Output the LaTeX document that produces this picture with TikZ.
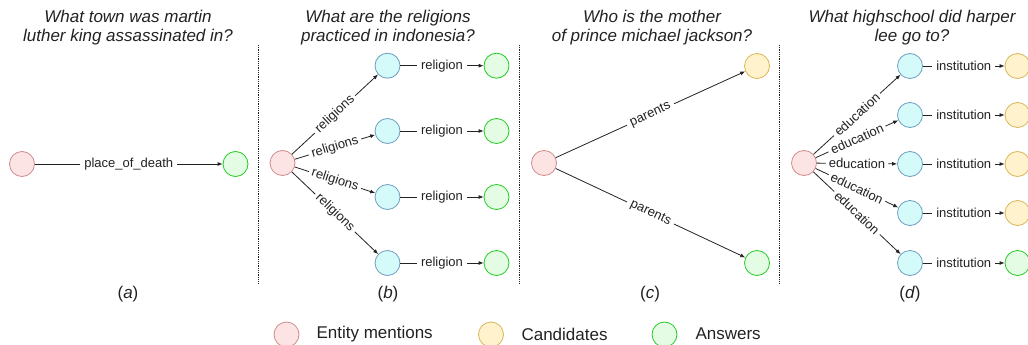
\documentclass[tikz,border=0pt]{standalone}
\usepackage{fontspec}
\setmainfont{Liberation Sans}
\usetikzlibrary{arrows.meta}
\definecolor{entF}{HTML}{FDE4E4}
\definecolor{entD}{HTML}{D08A8A}
\definecolor{midF}{HTML}{D4FAFA}
\definecolor{midD}{HTML}{6C9EBF}
\definecolor{canF}{HTML}{FFF2CC}
\definecolor{canD}{HTML}{D6B656}
\definecolor{ansF}{HTML}{E4FCE4}
\definecolor{ansD}{HTML}{22CC22}
\definecolor{txt}{HTML}{222222}
\begin{document}
\begin{tikzpicture}[x=1pt,y=-1pt,
  nd/.style={circle, minimum size=25pt, inner sep=0pt, line width=0.8pt},
  ent/.style={nd, draw=entD, fill=entF},
  mid/.style={nd, draw=midD, fill=midF},
  can/.style={nd, draw=canD, fill=canF},
  ans/.style={nd, draw=ansD, fill=ansF},
  lbl/.style={font=\fontsize{13}{15}\selectfont, fill=white, inner xsep=4pt, inner ysep=1pt, text=txt},
  conn/.style={draw=txt, line width=0.8pt, -{Latex[length=5pt,width=4pt]}},
  ttl/.style={font=\fontsize{17}{19}\selectfont\itshape, align=center, text=txt},
  captxt/.style={font=\fontsize{17}{19}\selectfont, text=txt},
  sepline/.style={draw=txt, densely dotted, line width=0.8pt}
]
\useasboundingbox (0,0) rectangle (1028,345);
\clip (0,0) rectangle (1028,345);

% separators
\coordinate (s1t) at (258,45); \coordinate (s1b) at (258,283);
\coordinate (s2t) at (519,45); \coordinate (s2b) at (519,283);
\coordinate (s3t) at (779,45); \coordinate (s3b) at (779,283);
\draw[sepline] (s1t) -- (s1b);
\draw[sepline] (s2t) -- (s2b);
\draw[sepline] (s3t) -- (s3b);

% titles
\node[ttl] (ta) at (128,28) {What town was martin\\luther king assassinated in?};
\node[ttl] (tb) at (388,28) {What are the religions\\practiced in indonesia?};
\node[ttl] (tc) at (652,28) {Who is the mother\\of prince michael jackson?};
\node[ttl] (td) at (912,28) {What highschool did harper\\lee go to?};

% captions
\node[captxt] (ca) at (128,294) {(\textit{a})};
\node[captxt] (cb) at (388,294) {(\textit{b})};
\node[captxt] (cc) at (650,294) {(\textit{c})};
\node[captxt] (cd) at (910,294) {(\textit{d})};

% (a)
\node[ent] (a0) at (22,164) {};
\node[ans] (a1) at (235.5,164) {};
\draw[conn] (a0) -- node[lbl]{place\_of\_death} (a1);

% (b)
\node[ent] (b0) at (282.5,163) {};
\foreach \i/\y in {1/65.7,2/131,3/197,4/263}{
  \node[mid] (b\i) at (387.5,\y) {};
  \node[ans] (g\i) at (496.5,\y) {};
  \draw[conn] (b0) -- node[lbl,sloped,inner xsep=3pt]{religions} (b\i);
  \draw[conn] (b\i) -- node[lbl]{religion} (g\i);
}

% (c)
\node[ent] (c0) at (544,163) {};
\node[can] (c1) at (757,66) {};
\node[ans] (c2) at (757,263) {};
\draw[conn] (c0) -- node[lbl,sloped]{parents} (c1);
\draw[conn] (c0) -- node[lbl,sloped]{parents} (c2);

% (d)
\node[ent] (d0) at (804,163) {};
\foreach \i/\y in {1/66,2/115,3/164,4/213}{
  \node[mid] (m\i) at (910,\y) {};
  \node[can] (k\i) at (1017.5,\y) {};
  \draw[conn] (d0) -- node[lbl,sloped,inner xsep=3pt]{education} (m\i);
  \draw[conn] (m\i) -- node[lbl]{institution} (k\i);
}
\node[mid] (m5) at (910,263) {};
\node[ans] (k5) at (1017.5,263) {};
\draw[conn] (d0) -- node[lbl,sloped,inner xsep=3pt]{education} (m5);
\draw[conn] (m5) -- node[lbl]{institution} (k5);

% legend
\node[ent] (le) at (286.5,334.5) {};
\node[captxt, anchor=west] (lte) at (313,334) {Entity mentions};
\node[can] (lc) at (491,334.5) {};
\node[captxt, anchor=west] (ltc) at (518,334) {Candidates};
\node[ans] (la) at (664.5,334.5) {};
\node[captxt, anchor=west] (lta) at (692,334) {Answers};
\end{tikzpicture}
\end{document}
